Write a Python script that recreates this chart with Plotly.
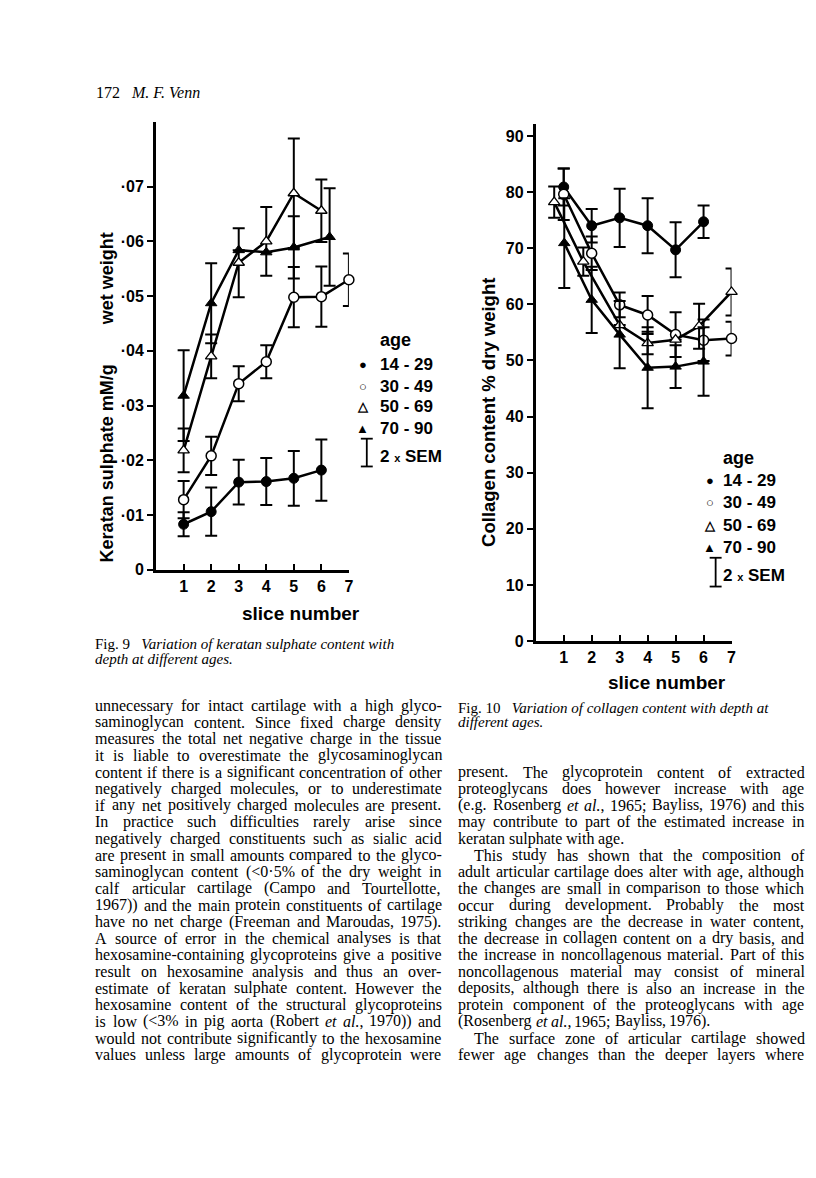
import re
import plotly.graph_objects as go

W, H = 816, 1178

# ---- Fig 9: keratan sulphate (mM/g wet weight) by slice number ----
ks_x_14_29 = [1, 2, 3, 4, 5, 6]
ks_y_14_29 = [0.0083, 0.0106, 0.0160, 0.0161, 0.0167, 0.0182]
ks_e_14_29 = [0.0022, 0.0044, 0.0041, 0.0043, 0.0050, 0.0056]

ks_x_30_49 = [1, 2, 3, 4, 5, 6, 7]
ks_y_30_49 = [0.0128, 0.0208, 0.0340, 0.0380, 0.0498, 0.0499, 0.0530]
ks_e_30_49 = [0.0034, 0.0035, 0.0032, 0.0030, 0.0055, 0.0055, 0.0048]

ks_x_50_69 = [1, 2, 3, 4, 5, 6]
ks_y_50_69 = [0.0218, 0.0390, 0.0561, 0.0600, 0.0688, 0.0656]
ks_e_50_69 = [0.0040, 0.0040, 0.0063, 0.0063, 0.0100, 0.0057]

ks_x_70_90 = [1, 2, 3, 4, 5, 6.3]
ks_y_70_90 = [0.0318, 0.0487, 0.0584, 0.0580, 0.0589, 0.0608]
ks_e_70_90 = [0.0083, 0.0073, 0, 0, 0.0057, 0.0089]

ks_ticks = [0, 0.01, 0.02, 0.03, 0.04, 0.05, 0.06, 0.07]
ks_ticktext = ["0", "·01", "·02", "·03", "·04", "·05", "·06", "·07"]

# ---- Fig 10: collagen content (% dry weight) by slice number ----
col_x_14_29 = [1, 2, 3, 4, 5, 6]
col_y_14_29 = [80.9, 74.0, 75.4, 74.0, 69.7, 74.7]
col_e_14_29 = [3.3, 3.0, 5.2, 4.9, 4.9, 2.9]

col_x_30_49 = [1, 2, 3, 4, 5, 6, 7]
col_y_30_49 = [79.6, 69.1, 59.9, 58.1, 54.6, 53.6, 53.9]
col_e_30_49 = [4.6, 3.0, 2.2, 3.4, 4.0, 3.7, 3.0]

col_x_50_69 = [0.66, 1.7, 3, 4, 5, 5.84, 7]
col_y_50_69 = [78.2, 67.6, 56.3, 53.1, 53.7, 56.1, 62.2]
col_e_50_69 = [2.8, 2.5, 0, 2.0, 0, 4.0, 4.2]

col_x_70_90 = [1.02, 2, 3, 4, 5, 6]
col_y_70_90 = [70.9, 60.8, 54.6, 48.7, 48.9, 49.8]
col_e_70_90 = [8.0, 5.9, 6.0, 7.2, 3.8, 6.1]

col_ticks = [0, 10, 20, 30, 40, 50, 60, 70, 80, 90]
slice_ticks = [1, 2, 3, 4, 5, 6, 7]
age_labels = ["14 - 29", "30 - 49", "50 - 69", "70 - 90"]

# body text; a leading "|" marks a paragraph indent, a trailing "$" a short last line
left_lines = [
    "unnecessary for intact cartilage with a high glyco-",
    "saminoglycan content. Since fixed charge density",
    "measures the total net negative charge in the tissue",
    "it is liable to overestimate the glycosaminoglycan",
    "content if there is a significant concentration of other",
    "negatively charged molecules, or to underestimate",
    "if any net positively charged molecules are present.",
    "In practice such difficulties rarely arise since",
    "negatively charged constituents such as sialic acid",
    "are present in small amounts compared to the glyco-",
    "saminoglycan content (&lt;0·5% of the dry weight in",
    "calf articular cartilage (Campo and Tourtellotte,",
    "1967)) and the main protein constituents of cartilage",
    "have no net charge (Freeman and Maroudas, 1975).",
    "A source of error in the chemical analyses is that",
    "hexosamine-containing glycoproteins give a positive",
    "result on hexosamine analysis and thus an over-",
    "estimate of keratan sulphate content. However the",
    "hexosamine content of the structural glycoproteins",
    "is low (&lt;3% in pig aorta (Robert <i>et al.</i>, 1970)) and",
    "would not contribute significantly to the hexosamine",
    "values unless large amounts of glycoprotein were",
]
right_lines = [
    "present. The glycoprotein content of extracted",
    "proteoglycans does however increase with age",
    "(e.g. Rosenberg <i>et al.</i>, 1965; Bayliss, 1976) and this",
    "may contribute to part of the estimated increase in",
    "keratan sulphate with age.$",
    "|This study has shown that the composition of",
    "adult articular cartilage does alter with age, although",
    "the changes are small in comparison to those which",
    "occur during development. Probably the most",
    "striking changes are the decrease in water content,",
    "the decrease in collagen content on a dry basis, and",
    "the increase in noncollagenous material. Part of this",
    "noncollagenous material may consist of mineral",
    "deposits, although there is also an increase in the",
    "protein component of the proteoglycans with age",
    "(Rosenberg <i>et al.</i>, 1965; Bayliss, 1976).$",
    "|The surface zone of articular cartilage showed",
    "fewer age changes than the deeper layers where",
]

# Times-compatible advance widths (1/1000 em) for measuring words
_widths = {" ": 250, ".": 250, ",": 250, "·": 250, "-": 333, "(": 333, ")": 333,
           ";": 278, ":": 278, "%": 833, "<": 564, "'": 180}
for _c, _w in zip("abcdefghijklmnopqrstuvwxyz",
                  [444, 500, 444, 500, 444, 333, 500, 500, 278, 278, 500, 278, 778,
                   500, 500, 500, 500, 333, 389, 278, 500, 500, 722, 500, 500, 444]):
    _widths[_c] = _w
for _c, _w in zip("ABCDEFGHIJKLMNOPQRSTUVWXYZ",
                  [722, 667, 667, 722, 611, 556, 722, 722, 333, 389, 722, 611, 889,
                   722, 722, 556, 722, 667, 556, 611, 722, 722, 944, 722, 722, 611]):
    _widths[_c] = _w
for _c in "0123456789":
    _widths[_c] = 500


def text_width(s, size):
    s = re.sub(r"<[^>]+>", "", s).replace("&lt;", "<")
    return sum(_widths.get(c, 500) for c in s) * size / 1000.0


def px(x):
    return x / W


def py(y):
    return 1 - y / H


SANS = "Liberation Sans"
SERIF = "Liberation Serif"
bold = dict(family=SANS, color="black", weight="bold")

fig = go.Figure()

styles = [
    dict(symbol="circle", size=10, color="black", line=dict(color="black", width=1)),
    dict(symbol="circle", size=10, color="white", line=dict(color="black", width=1.5)),
    dict(symbol="triangle-up", size=10, color="white", line=dict(color="black", width=1.3)),
    dict(symbol="triangle-up", size=10, color="black", line=dict(color="black", width=1)),
]

ks_series = [
    (ks_x_14_29, ks_y_14_29, ks_e_14_29),
    (ks_x_30_49, ks_y_30_49, ks_e_30_49),
    (ks_x_50_69, ks_y_50_69, ks_e_50_69),
    (ks_x_70_90, ks_y_70_90, ks_e_70_90),
]
col_series = [
    (col_x_14_29, col_y_14_29, col_e_14_29),
    (col_x_30_49, col_y_30_49, col_e_30_49),
    (col_x_50_69, col_y_50_69, col_e_50_69),
    (col_x_70_90, col_y_70_90, col_e_70_90),
]

for axes, series in (("x/y", ks_series), ("x2/y2", col_series)):
    xa, ya = axes.split("/")
    for (xs, ys, es), name, mk in zip(series, age_labels, styles):
        fig.add_trace(go.Scatter(
            x=xs, y=ys, name=name, xaxis=xa, yaxis=ya,
            mode="lines+markers", cliponaxis=False, showlegend=False,
            line=dict(color="black", width=2.5),
            marker=mk,
            error_y=dict(type="data", array=es, color="black",
                         thickness=2, width=6),
        ))

axis_common = dict(
    showline=True, linecolor="black", linewidth=3, showgrid=False,
    zeroline=False, tickcolor="black", tickwidth=2, ticklen=6,
    tickfont=dict(size=16, **bold),
)

fig.update_layout(
    width=W, height=H, autosize=False,
    margin=dict(l=0, r=0, t=0, b=0),
    paper_bgcolor="white", plot_bgcolor="white",
    xaxis=dict(domain=[px(149), px(343)], range=[0, 7], anchor="y",
               tickvals=slice_ticks, ticks="inside", **axis_common),
    yaxis=dict(domain=[py(566), py(115)], range=[0, 0.0818], anchor="x",
               tickvals=ks_ticks, ticktext=ks_ticktext, ticks="outside",
               **axis_common),
    xaxis2=dict(domain=[px(531), px(728)], range=[0, 7], anchor="y2",
                tickvals=slice_ticks, ticks="inside", **axis_common),
    yaxis2=dict(domain=[py(638), py(117)], range=[0, 92.1], anchor="x2",
                tickvals=col_ticks, ticks="outside", **axis_common),
)

ann = []


def note(x, y, text, size, font=None, xanchor="left", angle=0):
    f = dict(font or bold)
    f["size"] = size
    ann.append(dict(x=px(x), y=py(y), xref="paper", yref="paper",
                    text=text, showarrow=False, xanchor=xanchor,
                    yanchor="middle", textangle=angle, font=f,
                    borderpad=0))


# axis titles
nb = "\u00a0"
note(100, 392, "Keratan sulphate mM/g" + nb * 8 + "wet weight", 18,
     xanchor="center", angle=-90)
note(484, 408, "Collagen content % dry weight", 18.5, xanchor="center", angle=-90)
note(295, 610, "slice number", 19, xanchor="center")
note(663, 680, "slice number", 19, xanchor="center")

# legends
symbols = ["●", "○", "△", "▲"]
for lx, tx, top, rows, beam in (
    (357, 373, 335, [359, 381, 402, 424], (361, 434, 462, 452)),
    (706, 718, 453, [476, 498, 521, 544], (712, 554, 583, 572)),
):
    note(tx, top, "age", 18)
    for sym, lab, ry in zip(symbols, age_labels, rows):
        note(lx, ry, sym, 13, xanchor="center")
        note(tx, ry, lab, 17)
    bx, b0, b1, ty = beam
    for x0, y0, x1, y1 in ((bx, b0, bx, b1), (bx - 6, b0, bx + 6, b0),
                           (bx - 6, b1, bx + 6, b1)):
        fig.add_shape(type="line", xref="paper", yref="paper",
                      x0=px(x0), y0=py(y0), x1=px(x1), y1=py(y1),
                      line=dict(color="black", width=1.8))
    note(tx, ty, "2 <span style='font-size:11px'>x</span> SEM", 17)

# page header and captions
serif = dict(family=SERIF, color="black")
note(88, 85, "172" + nb * 3 + "<i>M. F. Venn</i>", 16, font=serif)
note(87, 641, "Fig. 9" + nb * 3 + "<i>Variation of keratan sulphate content with</i>",
     15, font=serif)
note(87, 656, "<i>depth at different ages.</i>", 15, font=serif)
note(452, 705, "Fig. 10" + nb * 3 + "<i>Variation of collagen content with depth at</i>",
     15, font=serif)
note(452, 720, "<i>different ages.</i>", 15, font=serif)


def set_column(lines, x0, y0, width, size, step):
    for i, line in enumerate(lines):
        indent = 16 if line.startswith("|") else 0
        short = line.endswith("$")
        line = line.strip("|$")
        words, italic = [], False
        for w in line.split(" "):
            out = ("<i>" if italic and not w.startswith("<i>") else "") + w
            if "<i>" in w:
                italic = True
            if "</i>" in w:
                italic = False
            if italic:
                out += "</i>"
            words.append(out)
        ws = [text_width(w, size) for w in words]
        natural_gap = 0.25 * size
        if short or len(words) < 2:
            gap = natural_gap
        else:
            gap = max(2.5, (width - indent - sum(ws)) / (len(words) - 1))
        x = x0 + indent
        y = y0 + i * step
        for w, wd in zip(words, ws):
            note(x, y, w, size, font=serif)
            x += wd + gap


set_column(left_lines, 87, 703, 348, 16, 16.75)
set_column(right_lines, 452, 770, 348, 16, 16.75)

fig.update_layout(annotations=ann)
fig.write_html("out.html")
